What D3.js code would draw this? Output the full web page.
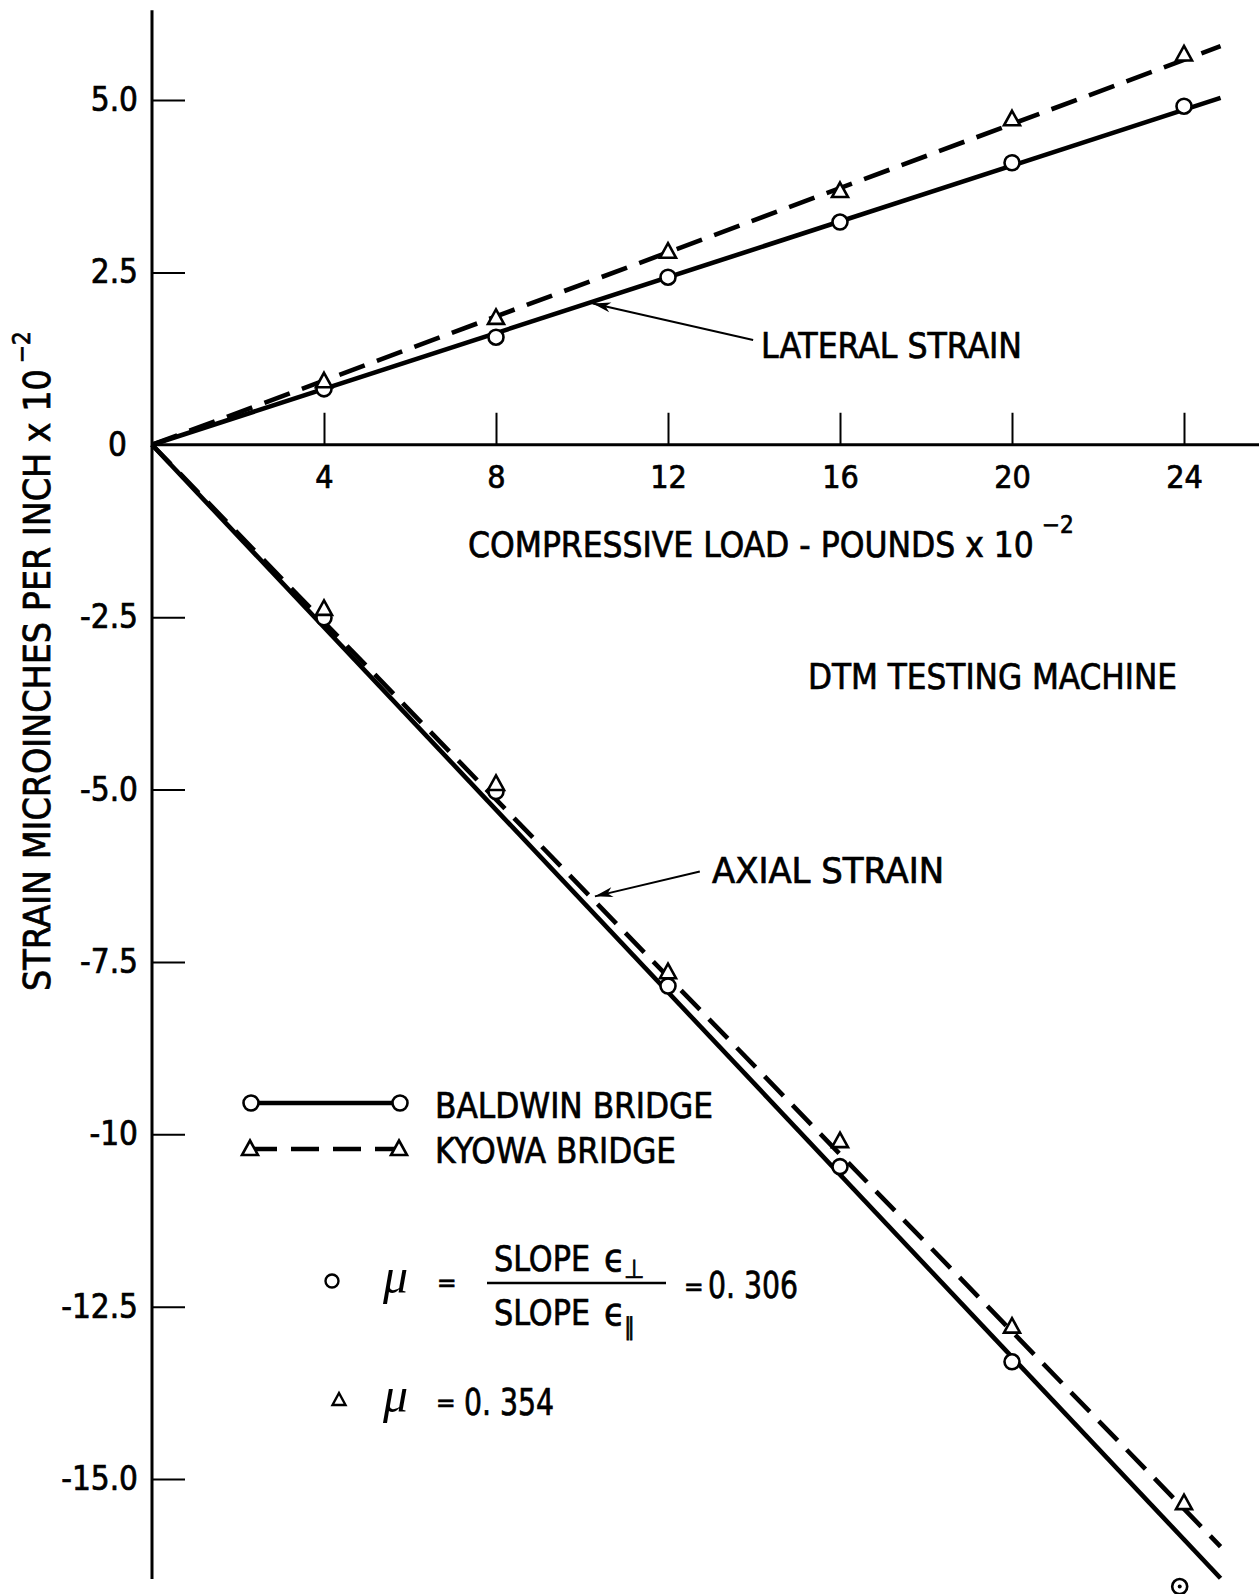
<!DOCTYPE html>
<html>
<head>
<meta charset="utf-8">
<script src="https://cdn.jsdelivr.net/npm/d3@7"></script>
<style>
  html, body { margin: 0; padding: 0; background: #fff; }
  svg { display: block; }
  .lbl { font-family: "Liberation Sans Narrow", "DejaVu Sans Condensed", "Roboto Condensed", sans-serif; fill: #000; stroke: #000; stroke-width: 0.7px; }
  .mu { font-family: "Liberation Serif", "DejaVu Serif", serif; font-style: italic; fill: #000; }
</style>
</head>
<body>
<svg id="chart" width="1259" height="1594"></svg>
<script>
// ---------------- data ----------------
const loads = [4, 8, 12, 16, 20, 24];                       // compressive load, lb x 10^-2
const lateralBaldwin = [0.81, 1.56, 2.43, 3.23, 4.09, 4.91];
const lateralKyowa   = [0.92, 1.84, 2.80, 3.68, 4.72, 5.66];
const axialBaldwinLoads = [4, 8, 12, 16, 20, 23.9];
const axialBaldwin   = [-2.51, -5.03, -7.85, -10.47, -13.30, -16.56];
const axialKyowa     = [-2.38, -4.92, -7.65, -10.10, -12.79, -15.35];

// fitted straight lines (start / end)
const fitLoads          = [0, 24.85];
const lateralBaldwinFit = [0, 5.03];
const lateralKyowaFit   = [0, 5.78];
const axialBaldwinFit   = [0, -16.44];
const axialKyowaFit     = [0, -15.98];

const xTicks = [4, 8, 12, 16, 20, 24];
const xTickLabels = ["4", "8", "12", "16", "20", "24"];
const yTicks = [5, 2.5, 0, -2.5, -5, -7.5, -10, -12.5, -15];
const yTickLabels = ["5.0", "2.5", "0", "-2.5", "-5.0", "-7.5", "-10", "-12.5", "-15.0"];
const xAxisExtent = [0, 25.8];
const yAxisExtent = [-16.45, 6.3];

// annotation arrows in data units: [tailX, tailY, tipX, tipY]
const lateralArrow = [13.98, 1.52, 10.25, 2.05];
const axialArrow   = [12.74, -6.19, 10.30, -6.55];

// ---------------- layout ----------------
const svg = d3.select("#chart");
svg.append("rect").attr("width", 1259).attr("height", 1594).attr("fill", "#fff");

const x = d3.scaleLinear().domain([0, 24]).range([152, 1184]);
const y = d3.scaleLinear().domain([-15, 5]).range([1479, 100]);

const defs = svg.append("defs");
defs.append("marker")
  .attr("id", "arrowhead")
  .attr("viewBox", "-20 -6 22 12")
  .attr("refX", 0).attr("refY", 0)
  .attr("markerWidth", 22).attr("markerHeight", 12)
  .attr("markerUnits", "userSpaceOnUse")
  .attr("orient", "auto")
  .append("path")
  .attr("d", "M0,0 L-18,-5 L-13,0 L-18,5 Z")
  .attr("fill", "#000");

// ---------------- axes ----------------
svg.append("line")
  .attr("x1", x(0)).attr("x2", x(0))
  .attr("y1", y(yAxisExtent[1])).attr("y2", y(yAxisExtent[0]))
  .attr("stroke", "#000").attr("stroke-width", 3);
svg.append("line")
  .attr("x1", x(xAxisExtent[0])).attr("x2", x(xAxisExtent[1]))
  .attr("y1", y(0)).attr("y2", y(0))
  .attr("stroke", "#000").attr("stroke-width", 3);

const yAxis = d3.axisLeft(y)
  .tickValues(yTicks)
  .tickFormat((d, i) => yTickLabels[i])
  .tickSizeInner(-33).tickSizeOuter(0).tickPadding(14);
const gy = svg.append("g").attr("transform", `translate(${x(0)},0)`).call(yAxis);
gy.select(".domain").remove();
gy.selectAll(".tick line").attr("stroke", "#000").attr("stroke-width", 2)
  .attr("opacity", d => d === 0 ? 0 : 1);
gy.selectAll(".tick text")
  .attr("class", "lbl")
  .style("font-size", "33px")
  .attr("x", d => d === 0 ? -25 : -14);

const xAxis = d3.axisBottom(x)
  .tickValues(xTicks)
  .tickFormat((d, i) => xTickLabels[i])
  .tickSizeInner(-32).tickSizeOuter(0).tickPadding(21);
const gx = svg.append("g").attr("transform", `translate(0,${y(0)})`).call(xAxis);
gx.select(".domain").remove();
gx.selectAll(".tick line").attr("stroke", "#000").attr("stroke-width", 2);
gx.selectAll(".tick text").attr("class", "lbl").style("font-size", "32px");

// ---------------- fitted lines ----------------
const lineGen = d3.line().x(d => x(d[0])).y(d => y(d[1]));
function fit(vals, dashed) {
  const pts = fitLoads.map((l, i) => [l, vals[i]]);
  svg.append("path")
    .attr("d", lineGen(pts))
    .attr("fill", "none")
    .attr("stroke", "#000")
    .attr("stroke-width", 4.6)
    .attr("stroke-dasharray", dashed ? "27 13" : null);
}
fit(lateralBaldwinFit, false);
fit(lateralKyowaFit, true);
fit(axialBaldwinFit, false);
fit(axialKyowaFit, true);

// ---------------- markers ----------------
const triPath = "M0,-8.5 L8,6 L-8,6 Z";
function circles(xs, vals) {
  svg.append("g").selectAll("circle")
    .data(vals).join("circle")
    .attr("cx", (d, i) => x(xs[i])).attr("cy", d => y(d))
    .attr("r", 7.5)
    .attr("fill", "#fff").attr("stroke", "#000").attr("stroke-width", 2.6);
}
function triangles(xs, vals) {
  svg.append("g").selectAll("path")
    .data(vals).join("path")
    .attr("transform", (d, i) => `translate(${x(xs[i])},${y(d)})`)
    .attr("d", triPath)
    .attr("fill", "#fff").attr("stroke", "#000").attr("stroke-width", 2.6);
}
circles(loads, lateralBaldwin);
triangles(loads, lateralKyowa);
circles(axialBaldwinLoads, axialBaldwin);
triangles(loads, axialKyowa);
const lastI = axialBaldwin.length - 1;
svg.append("circle")
  .attr("cx", x(axialBaldwinLoads[lastI])).attr("cy", y(axialBaldwin[lastI]))
  .attr("r", 2).attr("fill", "#000");

// ---------------- annotations ----------------
function arrow(a) {
  svg.append("line")
    .attr("x1", x(a[0])).attr("y1", y(a[1]))
    .attr("x2", x(a[2])).attr("y2", y(a[3]))
    .attr("stroke", "#000").attr("stroke-width", 2)
    .attr("marker-end", "url(#arrowhead)");
}
arrow(lateralArrow);
arrow(axialArrow);

function label(txt, px, py, size, len, anchor) {
  const t = svg.append("text").attr("class", "lbl")
    .attr("x", px).attr("y", py)
    .style("font-size", size + "px")
    .attr("text-anchor", anchor || "start")
    .text(txt);
  if (len) t.attr("textLength", len).attr("lengthAdjust", "spacingAndGlyphs");
  return t;
}
// size a text so that its natural width equals the target width
function fitSize(t, baseSize, target) {
  const w = t.node().getComputedTextLength();
  const s = baseSize * target / w;
  t.style("font-size", s + "px");
  return t.node().getComputedTextLength();
}

label("LATERAL STRAIN", 761, 358, 36, 261);
label("AXIAL STRAIN", 712, 883, 36, 232);
label("DTM TESTING MACHINE", 808, 689, 36, 369);

// x-axis title + superscript
const xt = label("COMPRESSIVE LOAD - POUNDS x 10", 468, 557, 38);
const xw = fitSize(xt, 38, 566);
label("\u22122", 468 + xw + 8, 533, 24);

// y-axis title (rotated)
const gyt = svg.append("g").attr("transform", "translate(50,991) rotate(-90)");
const ytt = gyt.append("text").attr("class", "lbl").attr("x", 0).attr("y", 0)
  .style("font-size", "36px")
  .text("STRAIN MICROINCHES PER INCH x 10");
const yw = fitSize(ytt, 36, 622);
gyt.append("text").attr("class", "lbl").attr("x", yw + 6).attr("y", -20)
  .style("font-size", "24px")
  .text("\u22122");

// ---------------- legend ----------------
const legX = [251, 400];
const legY = [1103, 1149];
svg.append("line").attr("x1", legX[0]).attr("x2", legX[1])
  .attr("y1", legY[0]).attr("y2", legY[0])
  .attr("stroke", "#000").attr("stroke-width", 4.5);
legX.forEach(lx => svg.append("circle").attr("cx", lx).attr("cy", legY[0]).attr("r", 7.5)
  .attr("fill", "#fff").attr("stroke", "#000").attr("stroke-width", 2.6));
svg.append("line").attr("x1", legX[0]).attr("x2", legX[1] - 2)
  .attr("y1", legY[1]).attr("y2", legY[1])
  .attr("stroke", "#000").attr("stroke-width", 4.5)
  .attr("stroke-dasharray", "28 14").attr("stroke-dashoffset", 2);
legX.forEach(lx => svg.append("path").attr("transform", `translate(${lx - 1},${legY[1]})`)
  .attr("d", triPath).attr("fill", "#fff").attr("stroke", "#000").attr("stroke-width", 2.6));
label("BALDWIN BRIDGE", 435, 1118, 36, 278);
label("KYOWA BRIDGE", 435, 1163, 36, 241);

// ---------------- Poisson ratio formula ----------------
svg.append("circle").attr("cx", 332).attr("cy", 1281).attr("r", 6.5)
  .attr("fill", "#fff").attr("stroke", "#000").attr("stroke-width", 2.4);
svg.append("text").attr("class", "mu").attr("x", 383).attr("y", 1293)
  .style("font-size", "50px").text("\u03bc");
label("=", 437, 1292, 26);
label("SLOPE", 494, 1271, 36, 96);
label("\u03f5", 604, 1271, 38);
label("\u22a5", 624, 1278, 26);
svg.append("line").attr("x1", 487).attr("x2", 666).attr("y1", 1283).attr("y2", 1283)
  .attr("stroke", "#000").attr("stroke-width", 2.4);
label("SLOPE", 494, 1325, 36, 96);
label("\u03f5", 604, 1325, 38);
label("\u2225", 624, 1335, 24);
label("=", 684, 1296, 26);
label("0. 306", 708, 1298, 38, 90);

svg.append("path").attr("transform", "translate(339,1400)")
  .attr("d", "M0,-7 L6.5,5 L-6.5,5 Z")
  .attr("fill", "#fff").attr("stroke", "#000").attr("stroke-width", 2.4);
svg.append("text").attr("class", "mu").attr("x", 383).attr("y", 1412)
  .style("font-size", "50px").text("\u03bc");
label("=", 436, 1412, 26);
label("0. 354", 464, 1415, 38, 90);
</script>
</body>
</html>
